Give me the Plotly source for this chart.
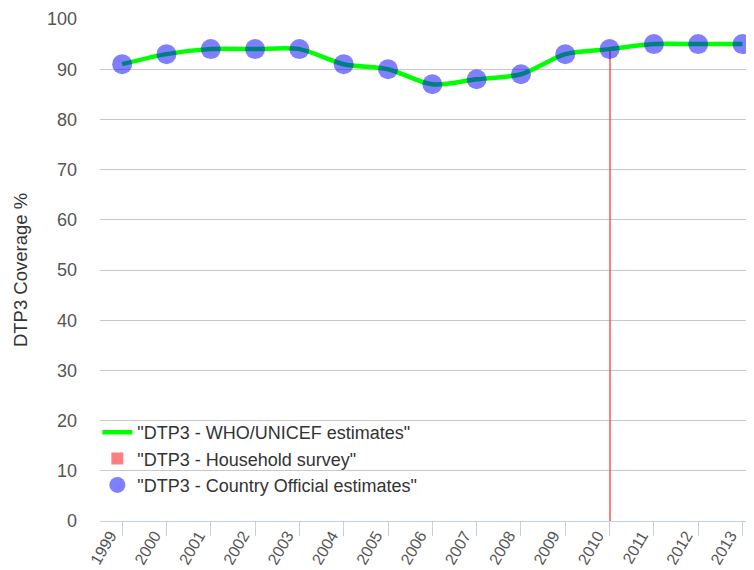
import plotly.graph_objects as go

years = ["1999", "2000", "2001", "2002", "2003", "2004", "2005", "2006",
         "2007", "2008", "2009", "2010", "2011", "2012", "2013"]
who_unicef = [91, 93, 94, 94, 94, 91, 90, 87, 88, 89, 93, 94, 95, 95, 95]
official = [91, 93, 94, 94, 94, 91, 90, 87, 88, 89, 93, 94, 95, 95, 95]
survey_years = ["2010"]
survey_values = [94]
y_ticks = [0, 10, 20, 30, 40, 50, 60, 70, 80, 90, 100]

FONT = "Liberation Sans, Arial, sans-serif"

fig = go.Figure()
fig.add_trace(go.Bar(
    x=survey_years, y=survey_values, name='"DTP3 - Household survey"',
    marker=dict(color="rgba(255,0,0,0.5)", line=dict(width=0)),
    width=0.045, legendrank=2,
))
fig.add_trace(go.Scatter(
    x=years, y=who_unicef, mode="lines", name='"DTP3 - WHO/UNICEF estimates"',
    line=dict(color="#00FF00", width=4.5, shape="spline", smoothing=0.8),
    legendrank=1,
))
fig.add_trace(go.Scatter(
    x=years, y=official, mode="markers", name='"DTP3 - Country Official estimates"',
    marker=dict(color="rgba(0,0,255,0.5)", size=20, line=dict(width=0)),
    legendrank=3,
))

fig.update_layout(
    width=754, height=570,
    margin=dict(l=92, r=0, t=11, b=57),
    plot_bgcolor="white", paper_bgcolor="white",
    font=dict(family=FONT, size=17, color="#333333"),
    showlegend=True,
    legend=dict(
        x=-0.004, y=0.034, xanchor="left", yanchor="bottom",
        bgcolor="rgba(0,0,0,0)", font=dict(size=18, color="#333333"),
        tracegroupgap=0, itemwidth=30,
    ),
    bargap=0,
)
fig.update_xaxes(
    type="category", categoryorder="array", categoryarray=years,
    range=[-0.5, 14.44],
    showgrid=False, showline=True, linecolor="#C0D0E0", linewidth=1,
    ticks="outside", ticklen=14, tickcolor="#C0D0E0", tickwidth=1,
    tickangle=-60, tickfont=dict(size=16, color="#555555"),
    ticklabelstandoff=-16, ticklabelshift=-12,
    automargin=False, zeroline=False,
)
fig.update_yaxes(
    range=[0, 100], tickvals=y_ticks,
    showgrid=True, gridcolor="#C8C8C8", gridwidth=1,
    zeroline=False, showline=False,
    tickfont=dict(size=18, color="#555555"),
    ticklabelstandoff=22,
    title=dict(text="DTP3 Coverage %", font=dict(size=18.5, color="#333333"), standoff=14),
    automargin=False,
)

fig.write_html("out.html")
